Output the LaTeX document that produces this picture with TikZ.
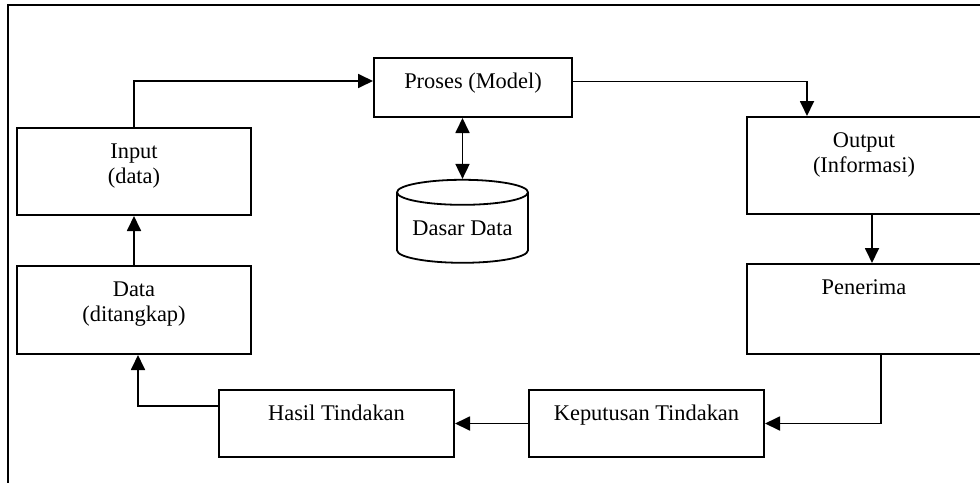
\documentclass[tikz,border=0pt]{standalone}
\usepackage{fontspec}
\setmainfont{Liberation Serif}
\usetikzlibrary{arrows.meta,positioning,shapes.geometric,calc}

\begin{document}
\begin{tikzpicture}[
  x=0.5pt, y=-0.5pt,
  box/.style={draw, line width=1pt, minimum width=117pt, inner sep=0pt},
  boxtext/.style={anchor=north, yshift=-8pt, align=center, inner sep=0pt,
    font=\fontsize{11.2}{12.8}\selectfont},
  store/.style={cylinder, shape border rotate=90, draw, line width=0.9pt, aspect=0.25,
    minimum width=65.5pt, minimum height=41.5pt, inner sep=0pt,
    font=\fontsize{11.2}{12.8}\selectfont},
  conn/.style={line width=0.9pt, -{Triangle[length=7.5pt,width=7pt]}},
  twoway/.style={line width=0.9pt, {Triangle[length=7.5pt,width=7pt]}-{Triangle[length=7.5pt,width=7pt]}}
]
  \useasboundingbox (0,0) rectangle (980,482);
  \draw[line width=1pt] (8,5) rectangle (1000,500);
  \node[box, minimum height=43.5pt, label={[boxtext]north:{Input\\(data)}}] (inp) at (134,171.5) {};
  \node[box, minimum height=44pt, below=24.5pt of inp, label={[boxtext]north:{Data\\(ditangkap)}}] (dat) {};
  \node[box, minimum width=99pt, minimum height=29.5pt, label={[boxtext]north:{Proses (Model)}}] (pro) at (473,87.5) {};
  \node[store] (db) at (462.5,228) {Dasar Data};
  \node[box, minimum height=48.5pt, label={[boxtext]north:{Output\\(Informasi)}}] (out) at (864,165.5) {};
  \node[box, minimum height=45pt, below=24pt of out, label={[boxtext]north:{Penerima}}] (pen) {};
  \node[box, minimum width=117.5pt, minimum height=33.5pt, label={[boxtext]north:{Keputusan Tindakan}}] (kep) at (646.5,423.5) {};
  \node[box, minimum width=117.5pt, minimum height=33.5pt, left=36.5pt of kep, label={[boxtext]north:{Hasil Tindakan}}] (has) {};

  \draw[conn] (inp.north) |- ([yshift=3.25pt]pro.west);
  \draw[conn] ([yshift=3pt]pro.east) -| ($(out.north west)+(61,0)$);
  \draw[twoway] (db.north |- pro.south) -- (db.north);
  \draw[conn] ([xshift=4pt]out.south) -- ([xshift=4pt]out.south |- pen.north);
  \draw[conn] ([xshift=8.5pt]pen.south) |- (kep.east);
  \draw[conn] (kep.west) -- (has.east);
  \draw[conn] ([yshift=8.75pt]has.west) -| ([xshift=2pt]dat.south);
  \draw[conn] (dat.north) -- (inp.south);
\end{tikzpicture}
\end{document}
